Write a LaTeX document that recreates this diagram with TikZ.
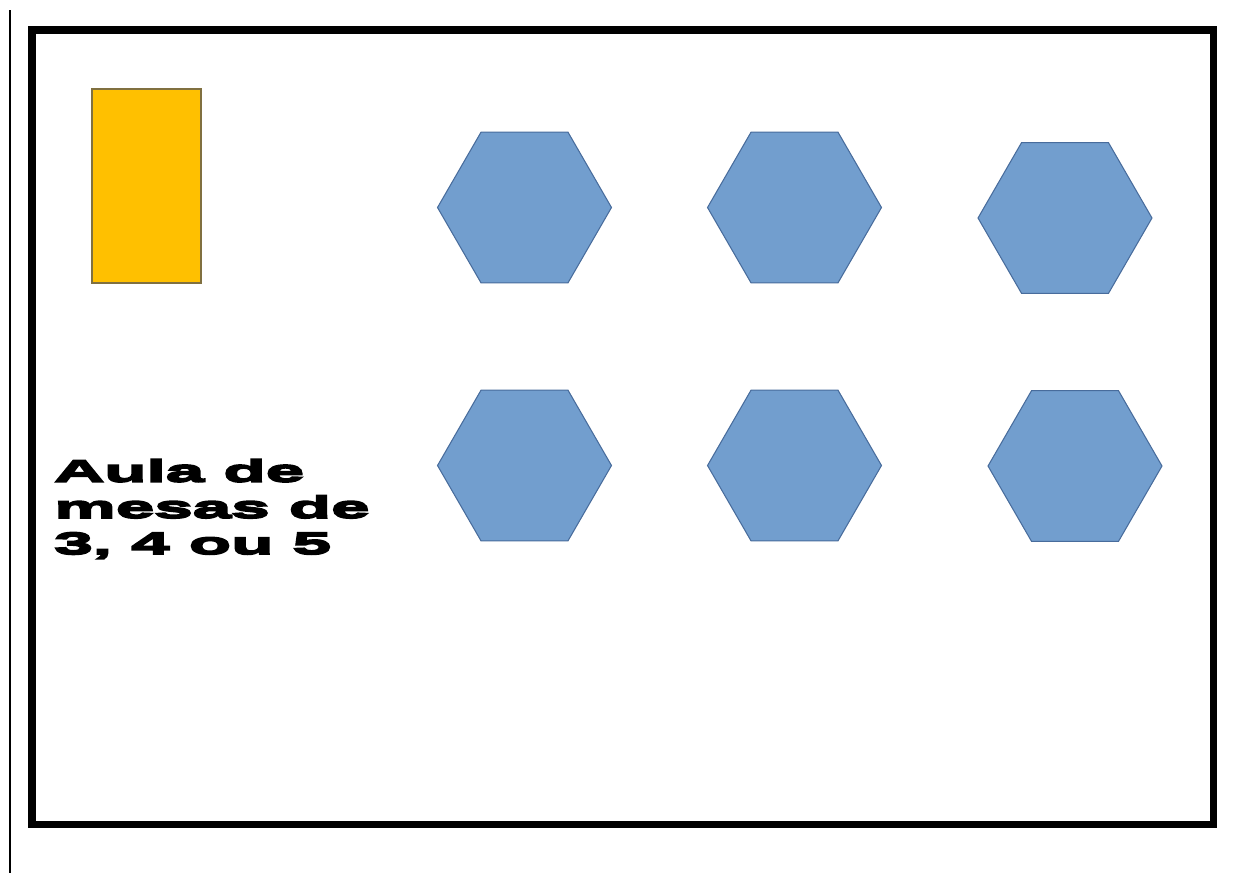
\documentclass[tikz,border=0pt]{standalone}
\usepackage{fontspec}
\usetikzlibrary{shapes.geometric}
\newfontfamily\aulafont[FakeBold=6,FakeStretch=2.25]{Liberation Sans Bold}
\definecolor{mesaazul}{RGB}{114,158,206}
\definecolor{mesaborda}{RGB}{72,108,156}
\definecolor{quadroamarelo}{RGB}{255,192,0}
\definecolor{quadroborda}{RGB}{128,112,64}
\tikzset{
  mesa/.style={regular polygon, regular polygon sides=6, minimum size=3.48cm,
    inner sep=0pt, fill=mesaazul, draw=mesaborda, line width=0.6pt},
  quadro/.style={fill=quadroamarelo, draw=quadroborda, line width=0.6pt},
}
\begin{document}
\begin{tikzpicture}[x=0.02cm,y=-0.02cm]
  \useasboundingbox (0,0) rectangle (1237,873);
  % margin line and room
  \draw[line width=1.2pt] (10,10) -- (10,873);
  \draw[line width=4pt] (32,30) rectangle (1213,824);
  % board
  \draw[quadro] (92,89) rectangle (201,283);
  % tables
  \node[mesa] (m1) at (524.5,207.5) {};
  \node[mesa] (m2) at (794.5,207.5) {};
  \node[mesa] (m3) at (1065,218) {};
  \node[mesa] (m4) at (524.5,465.5) {};
  \node[mesa] (m5) at (794.5,465.5) {};
  \node[mesa] (m6) at (1075,466) {};
  % label
  \node[anchor=north west, inner sep=0pt, align=left,
    font=\aulafont\fontsize{17.5}{20.6}\selectfont] (aula) at (54,459)
    {Aula de\\mesas de\\3, 4 ou 5};
\end{tikzpicture}
\end{document}
